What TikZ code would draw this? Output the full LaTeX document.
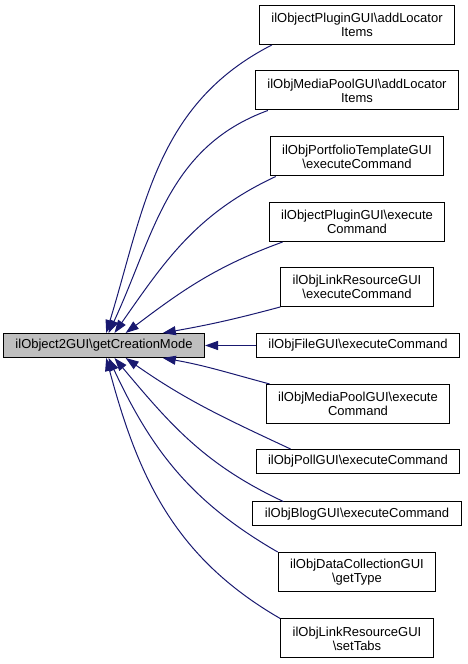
\documentclass[tikz,border=0pt]{standalone}
\usepackage{fontspec}
\setmainfont{Liberation Sans}
\usetikzlibrary{arrows.meta}
\definecolor{callblue}{HTML}{191970}
\definecolor{maingray}{HTML}{BFBFBF}
\tikzset{
    fn/.style={draw=black,fill=white,line width=1pt,inner xsep=12pt,inner ysep=3pt,minimum height=24pt,align=center},
    fntwo/.style={fn,minimum height=39pt},
    mainfn/.style={fn,fill=maingray},
    call/.style={callblue,line width=1pt,-{Triangle[length=13pt,width=9pt]}}
}
\begin{document}
\begin{tikzpicture}[x=1pt,y=1pt,font=\fontsize{13}{14}\selectfont]
        \useasboundingbox (0,0) rectangle (467,664);
        \def\xr{357}
        \node [mainfn] (main) at (104,318.5) {ilObject2GUI\textbackslash getCreationMode};
        \node [fntwo] (plugloc) at (\xr,639) {ilObjectPluginGUI\textbackslash addLocator\\Items};
        \node [fntwo] (mploc) at (\xr,573.5) {ilObjMediaPoolGUI\textbackslash addLocator\\Items};
        \node [fntwo] (portexec) at (\xr,507.5) {ilObjPortfolioTemplateGUI\\\textbackslash executeCommand};
        \node [fntwo] (plugexec) at (\xr,442) {ilObjectPluginGUI\textbackslash execute\\Command};
        \node [fntwo] (linkexec) at (\xr,377) {ilObjLinkResourceGUI\\\textbackslash executeCommand};
        \node [fn] (fileexec) at (358,318.5) {ilObjFileGUI\textbackslash executeCommand};
        \node [fntwo] (mpexec) at (358,260) {ilObjMediaPoolGUI\textbackslash execute\\Command};
        \node [fn] (pollexec) at (358,202.5) {ilObjPollGUI\textbackslash executeCommand};
        \node [fn] (blogexec) at (\xr,150) {ilObjBlogGUI\textbackslash executeCommand};
        \node [fntwo] (dctype) at (\xr,92) {ilObjDataCollectionGUI\\\textbackslash getType};
        \node [fntwo] (linktabs) at (\xr,25.5) {ilObjLinkResourceGUI\\\textbackslash setTabs};
        \foreach \src/\dx/\out/\ang/\in in {
            plugloc/13/207/80/73,
            mploc/13/200/70/65,
            portexec/6/205/50/55,
            plugexec/14/200/30/37,
            linkexec/0/195/12/10
        } {
            \draw [call] ([xshift=\dx pt]\src.south west) to [out=\out,in=\in] (main.\ang);
        }
        \draw [call] (fileexec) -- (main);
        \foreach \src/\dx/\out/\ang/\in in {
            mpexec/4/165/-12/-10,
            pollexec/35/155/-30/-35,
            blogexec/31/155/-50/-50,
            dctype/0/150/-70/-65,
            linktabs/0/150/-80/-75
        } {
            \draw [call] ([xshift=\dx pt]\src.north west) to [out=\out,in=\in] (main.\ang);
        }
    \end{tikzpicture}
\end{document}
